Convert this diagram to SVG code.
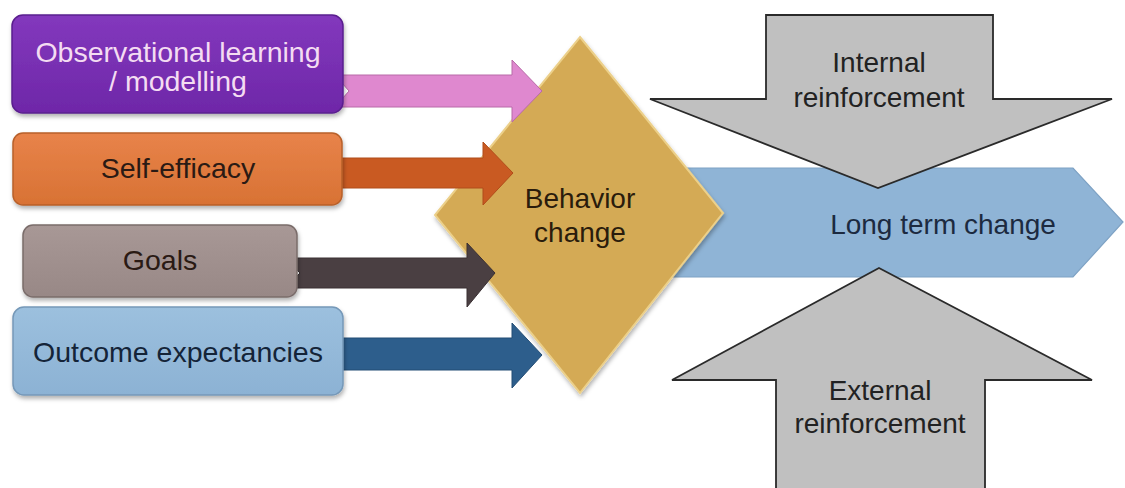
<svg xmlns="http://www.w3.org/2000/svg" width="1125" height="488" viewBox="0 0 1125 488">
<defs>
<filter id="sh" x="-10%" y="-10%" width="120%" height="130%">
<feDropShadow dx="1" dy="3" stdDeviation="2" flood-color="#000" flood-opacity="0.3"/>
</filter>
<linearGradient id="gPurple" x1="0" y1="0" x2="0" y2="1"><stop offset="0" stop-color="#8338bd"/><stop offset="1" stop-color="#6e27a8"/></linearGradient>
<linearGradient id="gOrange" x1="0" y1="0" x2="0" y2="1"><stop offset="0" stop-color="#e8834a"/><stop offset="1" stop-color="#d87234"/></linearGradient>
<linearGradient id="gGray" x1="0" y1="0" x2="0" y2="1"><stop offset="0" stop-color="#a89896"/><stop offset="1" stop-color="#988886"/></linearGradient>
<linearGradient id="gBlue" x1="0" y1="0" x2="0" y2="1"><stop offset="0" stop-color="#9cc0de"/><stop offset="1" stop-color="#8cb2d4"/></linearGradient>
</defs>
<style>
text { font-family: "Liberation Sans", Arial, sans-serif; text-anchor: middle; }
.lbl { font-size: 28.5px; fill: #2a1a14; }
.big { font-size: 28px; fill: #222; }
.box { filter: url(#sh); stroke-width: 1.5; }
.inarrow { stroke-width: 1; }
.rein { fill: #c0c0c0; stroke: #2a2a2a; stroke-width: 1.8; stroke-linejoin: miter; }
</style>

<g id="long-term-change">
<polygon points="650,168 1073,168 1123,222 1073,277 650,277" fill="#8fb4d6" stroke="#7ea2c4" stroke-width="1.2"/>
<text class="big" x="943" y="234" fill="#1c2a40" style="fill:#1c2a40">Long term change</text>
</g>

<g id="behavior-change">
<polygon points="580,37 723,213 580,393 435,215" fill="#d4aa55" stroke="#ecd08a" stroke-width="2" filter="url(#sh)"/>
<text class="big" x="580" y="208" style="fill:#2a1c0c">Behavior</text>
<text class="big" x="580" y="242" style="fill:#2a1c0c">change</text>
</g>

<g id="connectors">
<polygon class="inarrow" points="335,75 512,75 512,60 542,91 512,122 512,107 335,107 349,91" fill="#df88cf" stroke="#b86aa8"/>
<polygon class="inarrow" points="325,158 483,158 483,142 513,173 483,205 483,188 325,188 340,173" fill="#c95a22" stroke="#b04c1a"/>
<polygon class="inarrow" points="285,258 467,258 467,243 495,273 467,307 467,288 285,288 300,273" fill="#4a3f42" stroke="#3a3033"/>
<polygon class="inarrow" points="325,338 512,338 512,323 542,355 512,388 512,370 325,370 342,355" fill="#2d5e8c" stroke="#234d75"/>
</g>

<g id="observational-learning">
<rect class="box" x="12" y="15" width="331" height="98" rx="11" fill="url(#gPurple)" stroke="#5a1f8e"/>
<text class="lbl" x="178" y="62" style="fill:#f4dcf2">Observational learning</text>
<text class="lbl" x="178" y="91" style="fill:#f4dcf2">/ modelling</text>
</g>

<g id="self-efficacy">
<rect class="box" x="13" y="133" width="329" height="72" rx="10" fill="url(#gOrange)" stroke="#b8602a"/>
<text class="lbl" x="178" y="178">Self-efficacy</text>
</g>

<g id="goals">
<rect class="box" x="23" y="225" width="274" height="72" rx="10" fill="url(#gGray)" stroke="#7a6c6a"/>
<text class="lbl" x="160" y="270">Goals</text>
</g>

<g id="outcome-expectancies">
<rect class="box" x="13" y="307" width="330" height="88" rx="11" fill="url(#gBlue)" stroke="#7598b8"/>
<text class="lbl" x="178" y="362" style="fill:#142438">Outcome expectancies</text>
</g>

<g id="internal-reinforcement">
<polygon class="rein" points="766,15 993,15 993,99 1112,99 878,188 650,99 766,99"/>
<text class="big" x="879" y="72">Internal</text>
<text class="big" x="879" y="107">reinforcement</text>
</g>

<g id="external-reinforcement">
<polygon class="rein" points="879,268 1092,380 985,380 985,492 776,492 776,380 672,380"/>
<text class="big" x="880" y="400">External</text>
<text class="big" x="880" y="433">reinforcement</text>
</g>
</svg>
